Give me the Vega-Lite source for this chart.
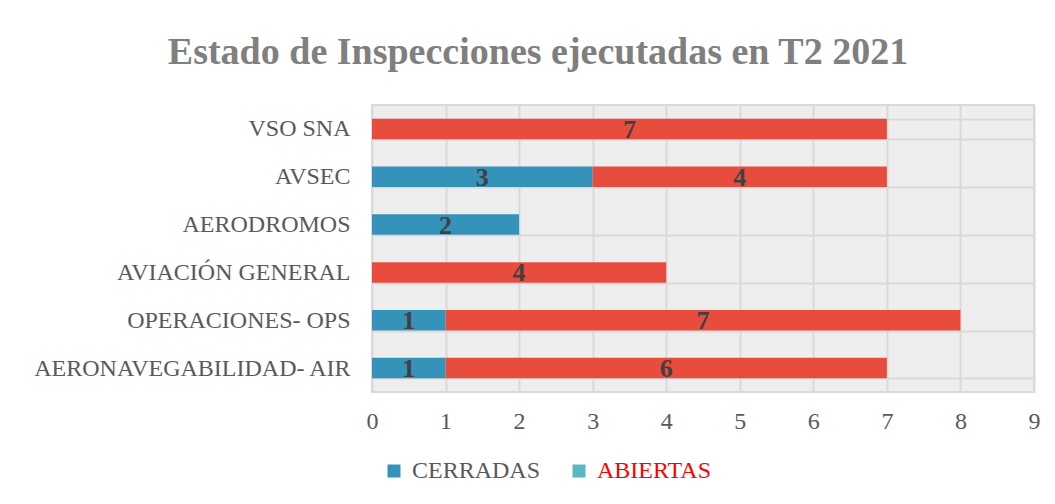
{
  "$schema": "https://vega.github.io/schema/vega-lite/v6.json",
  "width": 662,
  "height": 287,
  "autosize": {"type": "none"},
  "padding": {"left": 372, "top": 105, "right": 21, "bottom": 112},
  "background": "#ffffff",
  "config": {
    "font": "Liberation Serif",
    "axis": {"labelFont": "Liberation Serif"},
    "legend": {"labelFont": "Liberation Serif"},
    "view": {"fill": "#eeeeee", "stroke": "#d9d9d9", "strokeWidth": 2}
  },
  "title": {
    "text": "Estado de Inspecciones ejecutadas en T2 2021",
    "font": "Liberation Serif",
    "fontSize": 38,
    "fontWeight": "bold",
    "color": "#7f7f7f",
    "anchor": "middle",
    "dx": -165,
    "offset": 21
  },
  "data": {
    "values": [
      {"area": "VSO SNA", "serie": "ABIERTAS", "orden": 2, "valor": 7},
      {"area": "AVSEC", "serie": "CERRADAS", "orden": 1, "valor": 3},
      {"area": "AVSEC", "serie": "ABIERTAS", "orden": 2, "valor": 4},
      {"area": "AERODROMOS", "serie": "CERRADAS", "orden": 1, "valor": 2},
      {"area": "AVIACIÓN GENERAL\u00a0", "serie": "ABIERTAS", "orden": 2, "valor": 4},
      {"area": "OPERACIONES- OPS", "serie": "CERRADAS", "orden": 1, "valor": 1},
      {"area": "OPERACIONES- OPS", "serie": "ABIERTAS", "orden": 2, "valor": 7},
      {"area": "AERONAVEGABILIDAD- AIR", "serie": "CERRADAS", "orden": 1, "valor": 1},
      {"area": "AERONAVEGABILIDAD- AIR", "serie": "ABIERTAS", "orden": 2, "valor": 6}
    ]
  },
  "encoding": {
    "y": {
      "field": "area",
      "type": "nominal",
      "sort": ["VSO SNA", "AVSEC", "AERODROMOS", "AVIACIÓN GENERAL\u00a0", "OPERACIONES- OPS", "AERONAVEGABILIDAD- AIR"],
      "scale": {"paddingInner": 0.57, "paddingOuter": 0.285},
      "axis": {
        "title": null,
        "domain": false,
        "ticks": false,
        "grid": true,
        "tickBand": "extent",
        "gridColor": "#d9d9d9",
        "gridWidth": 2,
        "labelFont": "Liberation Serif",
        "labelFontSize": 24,
        "labelColor": "#595959",
        "labelPadding": 22,
        "labelLimit": 400
      }
    }
  },
  "layer": [
    {
      "mark": {"type": "point", "shape": "square", "filled": true, "size": 100, "opacity": 1},
      "encoding": {
        "x": {"datum": 0.5, "type": "quantitative"},
        "fill": {
          "field": "serie",
          "type": "nominal",
          "scale": {"domain": ["CERRADAS", "ABIERTAS"], "range": ["#3592b9", "#5ab8c0"]},
          "legend": {
            "title": null,
            "orient": "none",
            "direction": "horizontal",
            "legendX": 10,
            "legendY": 354,
            "symbolType": "square",
            "symbolSize": 169,
            "symbolStrokeWidth": 0,
            "labelFont": "Liberation Serif",
            "labelFontSize": 24,
            "labelColor": {"expr": "datum.label == 'ABIERTAS' ? '#ff0000' : '#595959'"},
            "labelOffset": 6,
            "columnPadding": 26
          }
        }
      }
    },
    {
      "mark": {"type": "bar"},
      "encoding": {
        "x": {
          "field": "valor",
          "type": "quantitative",
          "aggregate": "sum",
          "stack": "zero",
          "scale": {"domain": [0, 9], "nice": false},
          "axis": {
            "title": null,
            "values": [0, 1, 2, 3, 4, 5, 6, 7, 8, 9],
            "format": "d",
            "domain": false,
            "ticks": false,
            "grid": true,
            "gridColor": "#d9d9d9",
            "gridWidth": 2,
            "labelFlush": false,
            "labelFont": "Liberation Serif",
            "labelFontSize": 24,
            "labelColor": "#595959",
            "labelPadding": 17
          }
        },
        "color": {
          "field": "serie",
          "type": "nominal",
          "scale": {"domain": ["CERRADAS", "ABIERTAS"], "range": ["#3592b9", "#e84c3d"]},
          "legend": null
        },
        "order": {"field": "orden", "type": "quantitative"}
      }
    },
    {
      "mark": {"type": "text", "font": "Liberation Serif", "fontSize": 26, "fontWeight": "bold", "color": "#404040", "baseline": "middle", "dy": 1},
      "encoding": {
        "x": {"field": "valor", "type": "quantitative", "aggregate": "sum", "stack": "zero", "bandPosition": 0.5},
        "text": {"field": "valor", "type": "quantitative", "aggregate": "sum"},
        "detail": {"field": "serie", "type": "nominal"},
        "order": {"field": "orden", "type": "quantitative"}
      }
    }
  ]
}
